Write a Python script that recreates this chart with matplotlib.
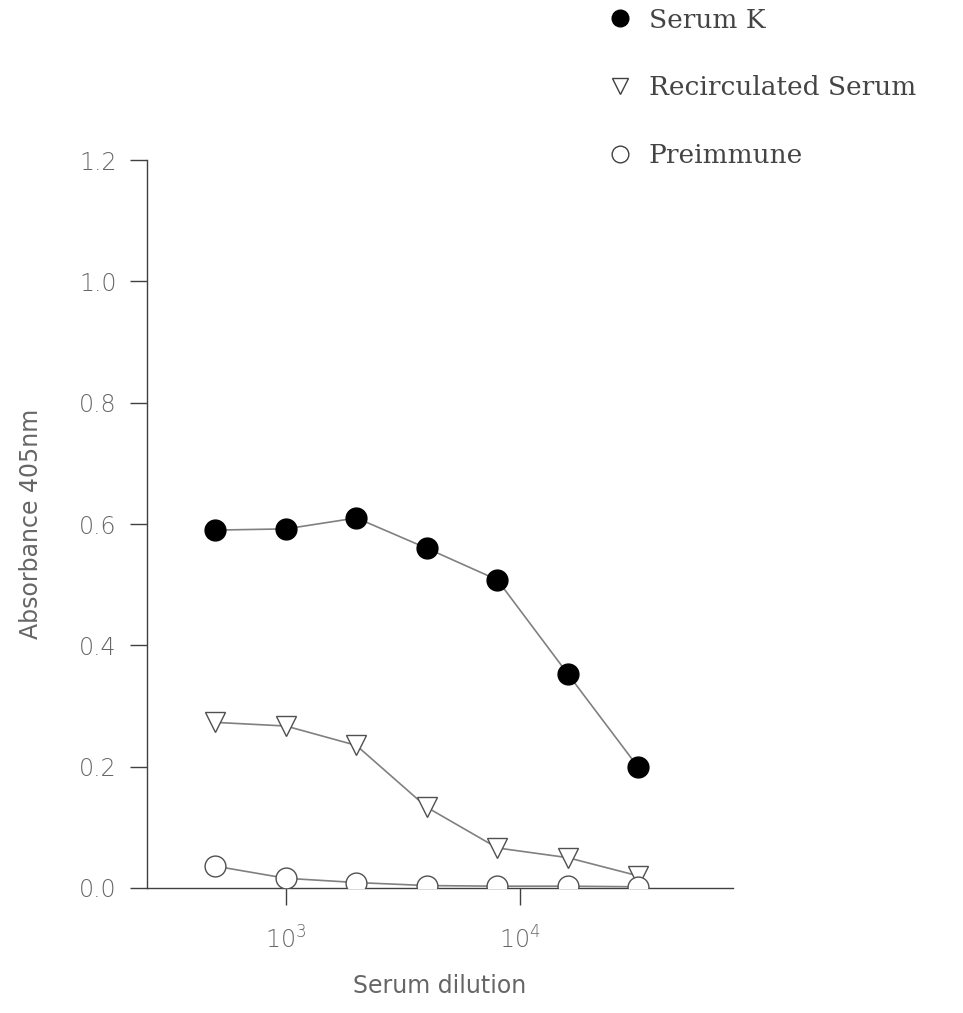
import matplotlib
matplotlib.use("Agg")
import matplotlib.pyplot as plt
from matplotlib.lines import Line2D

# dilution series (1:500 doubling up to 1:32000)
dilution = [500, 1000, 2000, 4000, 8000, 16000, 32000]
serum_k = [0.590, 0.592, 0.610, 0.560, 0.508, 0.353, 0.199]
recirculated = [0.273, 0.267, 0.235, 0.133, 0.066, 0.050, 0.020]
preimmune = [0.036, 0.016, 0.009, 0.004, 0.003, 0.003, 0.002]

series_names = ["Serum K", "Recirculated Serum", "Preimmune"]
y_ticks = [0.0, 0.2, 0.4, 0.6, 0.8, 1.0, 1.2]
x_ticks = [1000, 10000]
x_tick_labels = [r"$\mathregular{10^3}$", r"$\mathregular{10^4}$"]

plt.rcParams["font.family"] = ["DejaVu Sans"]
plt.rcParams["font.weight"] = "light"

fig = plt.figure(figsize=(9.63, 10.13), dpi=100)
ax = fig.add_axes([0.1527, 0.1234, 0.6085, 0.7186])

line_col = "#808080"
ax.plot(dilution, serum_k, color=line_col, lw=1.2, marker="o", ms=15,
        mfc="black", mec="black", zorder=3)
ax.plot(dilution, recirculated, color=line_col, lw=1.2, marker="v", ms=15,
        mfc="white", mec="#505050", mew=1.0, zorder=3)
ax.plot(dilution, preimmune, color=line_col, lw=1.2, marker="o", ms=15,
        mfc="white", mec="#505050", mew=1.0, zorder=4)

ax.set_xscale("log")
ax.set_xlim(255, 81300)
ax.set_ylim(0, 1.2)
ax.set_yticks(y_ticks)
ax.set_yticklabels([f"{v:.1f}" for v in y_ticks])
ax.set_xticks(x_ticks)
ax.set_xticklabels(x_tick_labels)
ax.xaxis.set_minor_locator(plt.NullLocator())

for side in ["top", "right"]:
    ax.spines[side].set_visible(False)
for side in ["left", "bottom"]:
    ax.spines[side].set_color("#404040")
    ax.spines[side].set_linewidth(1.0)
ax.tick_params(axis="both", length=12, width=1.0, color="#404040",
               labelsize=17, labelcolor="#666666", pad=10)
ax.tick_params(axis="x", pad=16)

ax.set_ylabel("Absorbance 405nm", fontsize=17, color="#666666", labelpad=26)
ax.set_xlabel("Serum dilution", fontsize=17, color="#666666", labelpad=14)

handles = [
    Line2D([], [], ls="none", marker="o", ms=12, mfc="black", mec="black"),
    Line2D([], [], ls="none", marker="v", ms=12, mfc="white", mec="#404040"),
    Line2D([], [], ls="none", marker="o", ms=12, mfc="white", mec="#404040"),
]
ax.legend(handles, series_names, loc="upper left", bbox_to_anchor=(0.605, 1.016),
          bbox_transform=fig.transFigure, frameon=False, labelspacing=1.62,
          handlelength=1.0, handletextpad=0.6,
          prop={"family": "DejaVu Serif", "size": 19},
          labelcolor="#444444")

fig.savefig("out.png", dpi=100, facecolor="white")
